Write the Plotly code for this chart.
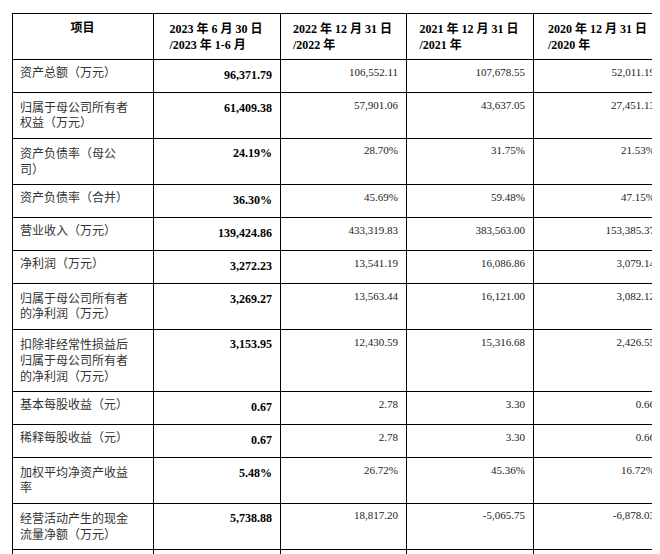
import plotly.graph_objects as go

headers = ["<b>项目</b>", "<b>2023 年 6 月 30 日<br>/2023 年 1-6 月</b>", "<b>2022 年 12 月 31 日<br>/2022 年</b>",
           "<b>2021 年 12 月 31 日<br>/2021 年</b>", "<b>2020 年 12 月 31 日<br>/2020 年</b>"]
items = ["资产总额（万元）", "归属于母公司所有者<br>权益（万元）", "资产负债率（母公<br>司）", "资产负债率（合并）",
         "营业收入（万元）", "净利润（万元）", "归属于母公司所有者<br>的净利润（万元）",
         "扣除非经常性损益后<br>归属于母公司所有者<br>的净利润（万元）", "基本每股收益（元）",
         "稀释每股收益（元）", "加权平均净资产收益<br>率", "经营活动产生的现金<br>流量净额（万元）",
         "现金分红（万元）", "研发投入占营业收入<br>的比例"]
v2023 = ["96,371.79", "61,409.38", "24.19%", "36.30%", "139,424.86", "3,272.23", "3,269.27", "3,153.95",
         "0.67", "0.67", "5.48%", "5,738.88", "-", "1.83%"]
v2022 = ["106,552.11", "57,901.06", "28.70%", "45.69%", "433,319.83", "13,541.19", "13,563.44", "12,430.59",
         "2.78", "2.78", "26.72%", "18,817.20", "-", "1.42%"]
v2021 = ["107,678.55", "43,637.05", "31.75%", "59.48%", "383,563.00", "16,086.86", "16,121.00", "15,316.68",
         "3.30", "3.30", "45.36%", "-5,065.75", "-", "0.96%"]
v2020 = ["52,011.19", "27,451.13", "21.53%", "47.15%", "153,385.37", "3,079.14", "3,082.12", "2,426.55",
         "0.66", "0.66", "16.72%", "-6,878.03", "-", "1.53%"]

font = "Liberation Serif, Noto Sans CJK SC"
fig = go.Figure(go.Table(
    columnwidth=[141, 127, 126, 127, 130],
    header=dict(values=headers, align="center", height=40,
                line=dict(color="black", width=1), fill_color="white",
                font=dict(family=font, size=12, color="black")),
    cells=dict(values=[items, ["<b>%s</b>" % v for v in v2023], v2022, v2021, v2020],
               align=["left", "right", "right", "right", "right"], height=33,
               line=dict(color="black", width=1), fill_color="white",
               font=dict(family=font, size=[12, 12, 11, 11, 11], color=["#333", "black", "#222", "#222", "#222"]))
))
fig.update_layout(width=660, height=554, margin=dict(l=4, r=5, t=5, b=0), paper_bgcolor="white")
fig.write_html("out.html")
